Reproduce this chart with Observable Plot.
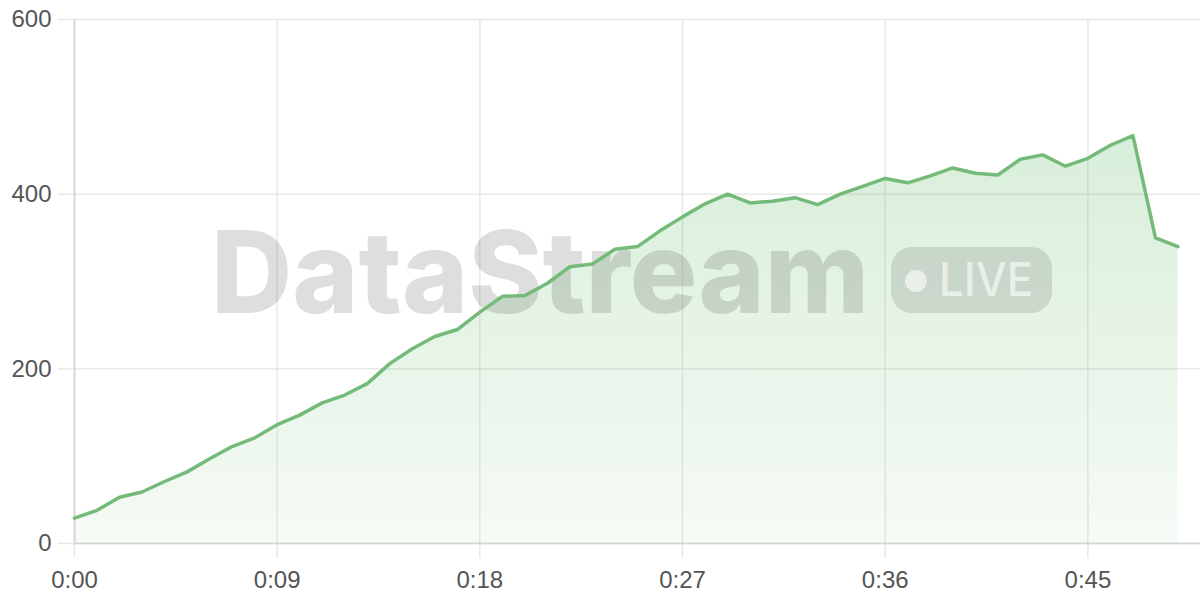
<!DOCTYPE html>
<html>
<head>
<meta charset="utf-8">
<script src="https://cdn.jsdelivr.net/npm/d3@7"></script>
<script src="https://cdn.jsdelivr.net/npm/@observablehq/plot@0.6"></script>
<style>
  html, body { margin: 0; padding: 0; background: #fff; }
  #chart { width: 1200px; height: 600px; }
</style>
</head>
<body>
<div id="chart"></div>
<script>
// elapsed time (seconds) and values
const seconds = [0,1,2,3,4,5,6,7,8,9,10,11,12,13,14,15,16,17,18,19,20,21,22,23,24,25,26,27,28,29,30,31,32,33,34,35,36,37,38,39,40,41,42,43,44,45,46,47,48,49];
const values  = [29,38,53,59,71,82,97,111,121,136,147,161,170,183,206,223,237,245,265,283,284,298,317,320,337,340,358,374,389,400,390,392,396,388,400,409,418,413,421,430,424,422,440,445,432,441,456,467,350,340];
const xTicks = [0,9,18,27,36,45];
const yTicks = [0,200,400,600];
const watermarkTitle = "DataStream";
const watermarkBadge = "LIVE";

const data = seconds.map((s, i) => ({s, v: values[i]}));
const fmt = d => `${Math.floor(d / 60)}:${String(d % 60).padStart(2, "0")}`;

const lineColor = "#74bb79";
const gridColor = "#e8e8e8";
const axisColor = "#d2d2d2";
const labelColor = "#555555";

const defsMark = () => {
  const defs = d3.create("svg:defs");
  const grad = defs.append("linearGradient")
    .attr("id", "areaGrad").attr("x1", 0).attr("y1", 0).attr("x2", 0).attr("y2", 1);
  grad.append("stop").attr("offset", "0%").attr("stop-color", "#5cb862").attr("stop-opacity", 0.24);
  grad.append("stop").attr("offset", "100%").attr("stop-color", "#5cb862").attr("stop-opacity", 0.06);
  return defs.node();
};

const watermarkMark = (index, scales, vals, dims) => {
  const cx = (dims.marginLeft + dims.width - dims.marginRight) / 2;
  const cy = (dims.marginTop + dims.height - dims.marginBottom) / 2;
  const g = d3.create("svg:g").attr("pointer-events", "none").attr("text-anchor", "start");
  g.append("text")
    .attr("x", cx - 426).attr("y", cy + 32)
    .attr("text-anchor", "start")
    .attr("font-family", "Inter, 'Liberation Sans', sans-serif")
    .attr("font-weight", 800)
    .attr("font-size", 114)
    .attr("textLength", 658).attr("lengthAdjust", "spacingAndGlyphs")
    .attr("fill", "rgba(0,0,0,0.13)")
    .text(watermarkTitle);
  g.append("rect")
    .attr("x", cx + 254).attr("y", cy - 34)
    .attr("width", 161).attr("height", 66)
    .attr("rx", 21)
    .attr("fill", "rgba(0,0,0,0.11)");
  g.append("circle")
    .attr("cx", cx + 279).attr("cy", cy)
    .attr("r", 11)
    .attr("fill", "rgba(255,255,255,0.6)");
  g.append("text")
    .attr("x", cx + 302).attr("y", cy + 15)
    .attr("text-anchor", "start")
    .attr("font-family", "Inter, 'Liberation Sans', sans-serif")
    .attr("font-weight", 500)
    .attr("font-size", 46)
    .attr("textLength", 94).attr("lengthAdjust", "spacingAndGlyphs")
    .attr("fill", "rgba(255,255,255,0.6)")
    .text(watermarkBadge);
  return g.node();
};

const chart = Plot.plot({
  width: 1200,
  height: 600,
  marginLeft: 74,
  marginRight: 0,
  marginTop: 19,
  marginBottom: 57,
  style: {fontFamily: "'Liberation Sans', Arial, sans-serif", fontSize: "24px", color: labelColor, background: "#fff"},
  x: {domain: [0, 50]},
  y: {domain: [0, 600]},
  marks: [
    defsMark,
    Plot.gridY(yTicks, {stroke: gridColor, strokeOpacity: 1, strokeWidth: 1.5}),
    Plot.gridX(xTicks, {stroke: gridColor, strokeOpacity: 1, strokeWidth: 1.5}),
    Plot.areaY(data, {x: "s", y: "v", fill: "url(#areaGrad)"}),
    watermarkMark,
    Plot.axisY(yTicks, {anchor: "left", tickSize: 16, tickPadding: 7, stroke: gridColor, strokeOpacity: 1, strokeWidth: 1.5, fill: labelColor, label: null}),
    Plot.axisX(xTicks, {anchor: "bottom", tickSize: 15, tickPadding: 12, tickFormat: fmt, stroke: gridColor, strokeOpacity: 1, strokeWidth: 1.5, fill: labelColor, label: null}),
    Plot.ruleY([0], {stroke: axisColor, strokeWidth: 1.5}),
    Plot.ruleX([0], {stroke: axisColor, strokeWidth: 1.5}),
    Plot.lineY(data, {x: "s", y: "v", stroke: lineColor, strokeWidth: 3.5, strokeLinejoin: "round"})
  ]
});
document.getElementById("chart").appendChild(chart);
</script>
</body>
</html>
